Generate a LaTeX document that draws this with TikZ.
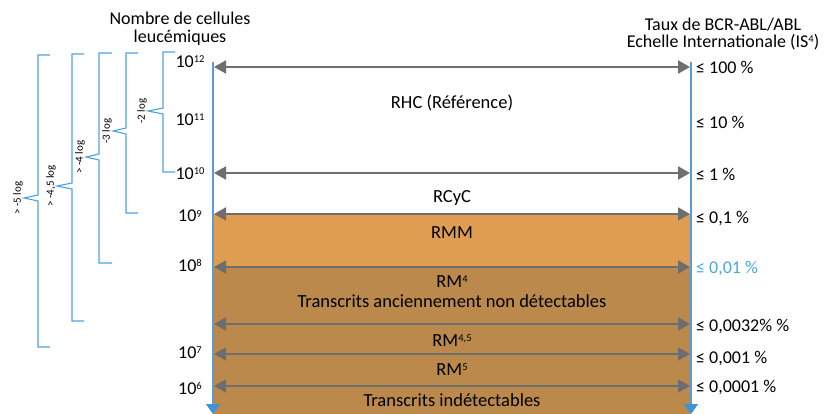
\documentclass[tikz,border=0pt]{standalone}
\usepackage{fontspec}
\setmainfont{Carlito}
\usetikzlibrary{arrows.meta}
\definecolor{garc}{HTML}{6E6E6E}
\definecolor{axblue}{HTML}{5B9BD5}
\definecolor{tipblue}{HTML}{3E92D6}
\definecolor{brblue}{HTML}{4FA3DB}
\definecolor{orl}{HTML}{DF9D52}
\definecolor{ord}{HTML}{BC894C}
\definecolor{bluetxt}{HTML}{4EA6DC}
\newcommand\mysup[1]{\raisebox{5pt}{\fontsize{10.5}{11}\selectfont #1}}
\begin{document}
\begin{tikzpicture}[x=1pt,y=-1pt,
  lvl/.style={font=\fontsize{18}{20}\selectfont, anchor=base, inner sep=0pt},
  pct/.style={font=\fontsize{18}{20}\selectfont, anchor=base west, inner sep=0pt},
  zone/.style={font=\fontsize{18.5}{21}\selectfont, anchor=base, inner sep=0pt},
  head/.style={font=\fontsize{18}{20}\selectfont, anchor=base, inner sep=0pt},
  brlab/.style={font=\fontsize{11}{12}\selectfont, rotate=90, inner sep=0pt},
  brace/.style={draw=brblue, line width=1.1pt},
  grarrow/.style={draw=garc, line width=2pt, {Triangle[length=12pt,width=13pt]}-{Triangle[length=12pt,width=13pt]}},
  axis/.style={draw=axblue, line width=1.6pt, -{Triangle[length=10pt,width=14pt,color=tipblue]}}]
\useasboundingbox (0,0) rectangle (824,414);
% fills
\fill[orl] (213,214) rectangle (691,267);
\fill[ord] (213,267) rectangle (691,414);
% axes
\coordinate (lt) at (213,62);
\coordinate (lb) at (213,414);
\coordinate (rt) at (691,62);
\coordinate (rb) at (691,414);
\draw[axis] (lt) -- (lb);
\draw[axis] (rt) -- (rb);
% arrows
\foreach \n/\y in {a/67,b/173,c/214,d/267,e/324,f/354,g/386}{
  \coordinate (L\n) at (214,\y);
  \coordinate (R\n) at (690,\y);
  \draw[grarrow] (L\n) -- (R\n);
}
% left level labels
\node[lvl] (n12) at (190,68) {10\mysup{12}};
\node[lvl] (n11) at (190,126) {10\mysup{11}};
\node[lvl] (n10) at (190,179) {10\mysup{10}};
\node[lvl] (n9) at (190,222) {10\mysup{9}};
\node[lvl] (n8) at (190,271) {10\mysup{8}};
\node[lvl] (n7) at (190,358) {10\mysup{7}};
\node[lvl] (n6) at (190,394) {10\mysup{6}};
% right percent labels
\node[pct] (p1) at (696,74) {≤ 100 \%};
\node[pct] (p2) at (696,129) {≤ 10 \%};
\node[pct] (p3) at (696,181) {≤ 1 \%};
\node[pct] (p4) at (696,223) {≤ 0,1 \%};
\node[pct, text=bluetxt] (p5) at (696,273) {≤ 0,01 \%};
\node[pct] (p6) at (696,331) {≤ 0,0032\% \%};
\node[pct] (p7) at (696,363) {≤ 0,001 \%};
\node[pct] (p8) at (696,392) {≤ 0,0001 \%};
% zone texts
\node[zone] (z1) at (452,109) {RHC (Référence)};
\node[zone] (z2) at (452,202) {RCyC};
\node[zone] (z3) at (452,238) {RMM};
\node[zone] (z4) at (452,287) {RM\mysup{4}};
\node[zone] (z5) at (452,307) {Transcrits anciennement non détectables};
\node[zone] (z6) at (452,346) {RM\mysup{4,5}};
\node[zone] (z7) at (452,375) {RM\mysup{5}};
\node[zone] (z8) at (452,406) {Transcrits indétectables};
% headers
\node[head] (h1) at (180,25) {Nombre de cellules};
\node[head] (h2) at (180,43) {leucémiques};
\node[head] (h3) at (723,31) {Taux de BCR-ABL/ABL};
\node[head] (h4) at (723,48) {Echelle Internationale (IS\mysup{4})};
% braces
\foreach \xv/\xp/\yt/\ym/\yb/\xe/\lab/\nm in {
  163/148/52/111/172/175/{-2 log}/b1,
  126/113/53/131/213/138/{-3 log}/b2,
  99/86/53/157/263/112/{> -4 log}/b3,
  72/57/54/186/321/84/{> -4,5 log}/b4,
  38/24/55/198/347/50/{> -5 log}/b5}{
  \draw[brace] (\xe,\yt) -- (\xv,\yt) -- (\xv,\ym-3) -- (\xp,\ym) -- (\xv,\ym+3) -- (\xv,\yb) -- (\xe,\yb);
  \node[brlab] (\nm) at (\xp-6,\ym) {\lab};
}
\end{tikzpicture}
\end{document}
